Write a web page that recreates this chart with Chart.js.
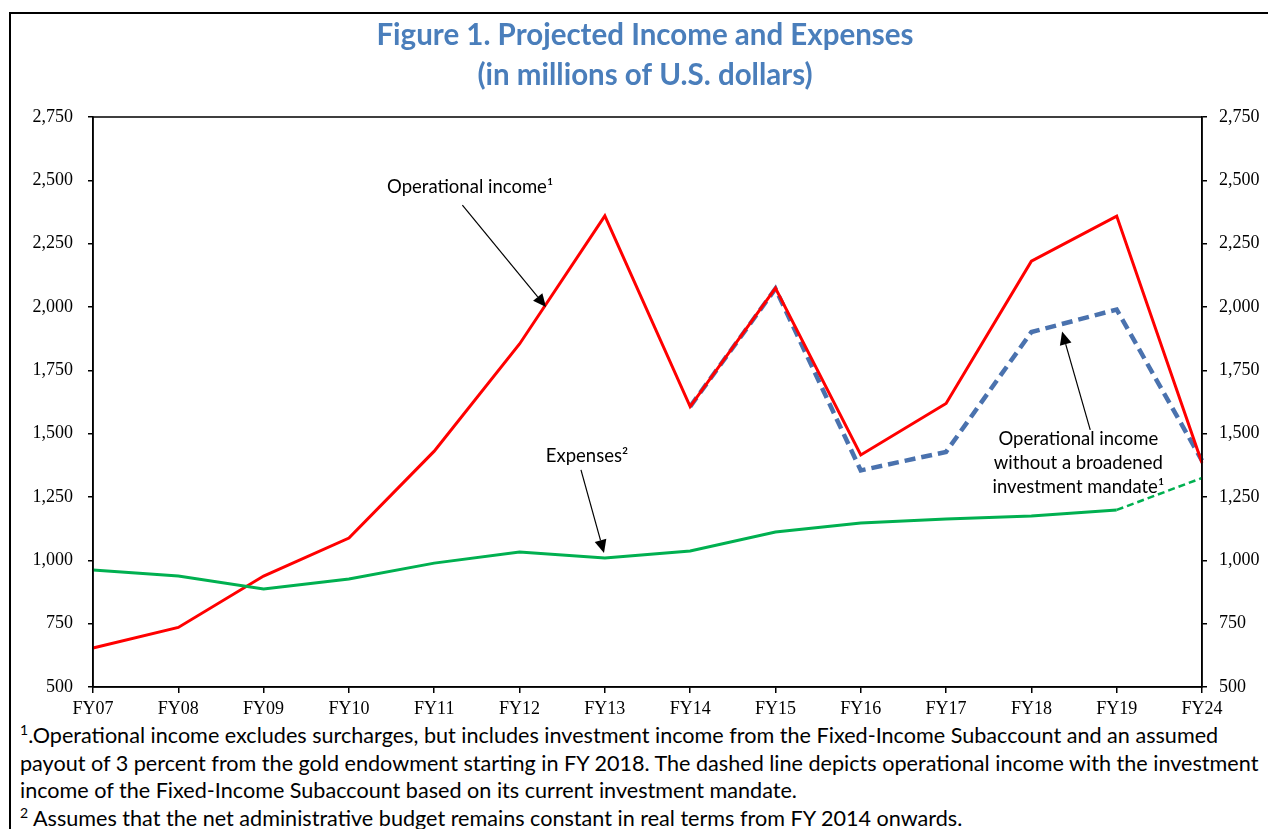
<!DOCTYPE html>
<html>
<head>
<meta charset="utf-8">
<script src="https://cdn.jsdelivr.net/npm/chart.js@4.4.1/dist/chart.umd.min.js"></script>
<style>
  html, body { margin:0; padding:0; background:#fff; width:1268px; height:829px; overflow:hidden; }
  .frame { position:absolute; left:9px; top:12px; width:1300px; height:900px; border:2px solid #000; box-sizing:border-box; }
  .wrap { position:absolute; left:0; top:0; width:1268px; height:720px; }
  .notes { position:absolute; left:20px; top:722px; width:1248px; font-family:Lato, "Noto Sans", sans-serif; font-size:21.6px; line-height:27.5px; color:#000; white-space:nowrap; }
  .notes sup { font-size:14px; line-height:0; vertical-align:8px; }
</style>
</head>
<body>
<div class="frame"></div>
<div class="wrap"><canvas id="incomeChart" width="1268" height="720"></canvas></div>
<div class="notes">
  <div><sup>1</sup>.Operational income excludes surcharges, but includes investment income from the Fixed-Income Subaccount and an assumed</div>
  <div>payout of 3 percent from the gold endowment starting in FY 2018. The dashed line depicts operational income with the investment</div>
  <div>income of the Fixed-Income Subaccount based on its current investment mandate.</div>
  <div><sup>2</sup> Assumes that the net administrative budget remains constant in real terms from FY 2014 onwards.</div>
</div>
<script>
const FY_LABELS = ['FY07','FY08','FY09','FY10','FY11','FY12','FY13','FY14','FY15','FY16','FY17','FY18','FY19','FY24'];
const OP_INCOME = [654, 735, 938, 1088, 1431, 1854, 2360, 1607, 2075, 1416, 1619, 2181, 2359, 1384];
const OP_INCOME_NARROW = [null, null, null, null, null, null, null, 1607, 2072, 1355, 1428, 1901, 1990, 1394];
const EXPENSES = [962, 938, 887, 926, 989, 1033, 1009, 1037, 1112, 1147, 1163, 1175, 1199, 1325];
const Y_TICKS = [500, 750, 1000, 1250, 1500, 1750, 2000, 2250, 2500, 2750];

// callouts: text lines anchored in data space, arrow from text to a point on a line
const CALLOUTS = [
  { lines:['Operational income¹'], at:[4.42, 2474], from:[4.33, 2402], to:[5.31, 2000] },
  { lines:['Expenses²'], at:[5.79, 1412], from:[5.72, 1357], to:[5.99, 1029] },
  { lines:['Operational income','without a broadened','investment mandate¹'], at:[11.55, 1480], from:[11.69, 1515], to:[11.36, 1903] }
];

const tickFont = { family:'"Liberation Serif", "Times New Roman", serif', size:18 };

const decor = {
  id:'decor',
  afterDraw(chart) {
    const c = chart.ctx, a = chart.chartArea;
    const xs = chart.scales.x, ys = chart.scales.y;
    c.save();
    // plot box
    c.strokeStyle = '#000'; c.lineWidth = 1.5;
    c.strokeRect(a.left, a.top, a.right - a.left, a.bottom - a.top);
    // title
    c.fillStyle = '#4A7EBB';
    c.font = 'bold 29.5px Lato, "Noto Sans", sans-serif';
    c.textAlign = 'center'; c.textBaseline = 'middle';
    c.fillText('Figure 1. Projected Income and Expenses', 645, 35);
    c.fillText('(in millions of U.S. dollars)', 645, 75);
    // callouts
    c.fillStyle = '#000';
    c.font = '18.5px Lato, "Noto Sans", sans-serif';
    CALLOUTS.forEach(co => {
      const tx = xs.getPixelForValue(co.at[0]), ty = ys.getPixelForValue(co.at[1]);
      co.lines.forEach((l, i) => c.fillText(l, tx, ty + i * 24));
      const x1 = xs.getPixelForValue(co.from[0]), y1 = ys.getPixelForValue(co.from[1]);
      const x2 = xs.getPixelForValue(co.to[0]), y2 = ys.getPixelForValue(co.to[1]);
      const ang = Math.atan2(y2 - y1, x2 - x1), hl = 13, hw = 6;
      const bx = x2 - hl * Math.cos(ang), by = y2 - hl * Math.sin(ang);
      c.strokeStyle = '#000'; c.lineWidth = 1.2;
      c.beginPath(); c.moveTo(x1, y1); c.lineTo(bx, by); c.stroke();
      c.beginPath();
      c.moveTo(x2, y2);
      c.lineTo(bx + hw * Math.sin(ang), by - hw * Math.cos(ang));
      c.lineTo(bx - hw * Math.sin(ang), by + hw * Math.cos(ang));
      c.closePath(); c.fill();
    });
    c.restore();
  }
};

new Chart(document.getElementById('incomeChart'), {
  type:'line',
  data:{
    labels:FY_LABELS,
    datasets:[
      { label:'Expenses', data:EXPENSES, borderColor:'#00B050', borderWidth:3, pointRadius:0, tension:0,
        segment:{ borderDash:ctx => ctx.p1DataIndex === FY_LABELS.length - 1 ? [7,4] : undefined,
                  borderWidth:ctx => ctx.p1DataIndex === FY_LABELS.length - 1 ? 2.5 : 3 } },
      { label:'Operational income', data:OP_INCOME, borderColor:'#FF0000', borderWidth:3, pointRadius:0, tension:0 },
      { label:'Operational income without a broadened investment mandate', data:OP_INCOME_NARROW, borderColor:'#4A72AE',
        borderWidth:4.5, borderDash:[11,6], pointRadius:0, tension:0, spanGaps:false }
    ]
  },
  options:{
    responsive:false, animation:false,
    layout:{ padding:{ top:117, left:0, right:0, bottom:0 } },
    plugins:{ legend:{display:false}, tooltip:{enabled:false}, title:{display:false} },
    scales:{
      x:{ offset:false,
          grid:{ drawOnChartArea:false, color:'#000', tickLength:6, lineWidth:1.5 },
          border:{ color:'#000', width:1.5 },
          ticks:{ color:'#000', font:tickFont, padding:5, maxRotation:0, autoSkip:false },
          afterFit:s => { s.height = 33; } },
      y:{ position:'left', min:500, max:2750, afterBuildTicks:s => { s.ticks = Y_TICKS.map(v => ({value:v})); },
          grid:{ drawOnChartArea:false, color:'#000', tickLength:5, lineWidth:1.5 },
          border:{ color:'#000', width:1.5 },
          ticks:{ color:'#000', font:tickFont, padding:15, callback:v => v.toLocaleString('en-US') },
          afterFit:s => { s.width = 93; } },
      y2:{ position:'right', min:500, max:2750, afterBuildTicks:s => { s.ticks = Y_TICKS.map(v => ({value:v})); },
          grid:{ drawOnChartArea:false, color:'#000', tickLength:5, lineWidth:1.5 },
          border:{ color:'#000', width:1.5 },
          ticks:{ color:'#000', font:tickFont, padding:12, callback:v => v.toLocaleString('en-US') },
          afterFit:s => { s.width = 66; } }
    }
  },
  plugins:[decor]
});
</script>
</body>
</html>
